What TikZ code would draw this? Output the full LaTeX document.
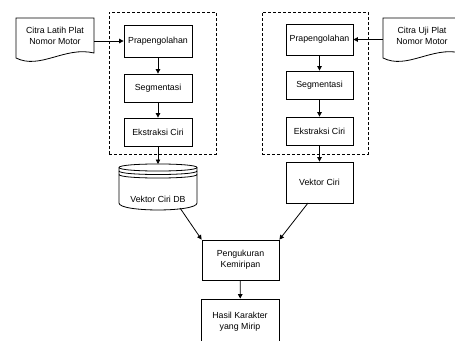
\documentclass[tikz,border=0pt]{standalone}
\usepackage{fontspec}
\setmainfont{Liberation Sans}
\usetikzlibrary{arrows.meta}
\begin{document}
\begin{tikzpicture}[x=1pt,y=-1pt,
  every node/.style={font=\fontsize{8.8}{11}\selectfont, align=center, inner sep=0pt},
  proc/.style={draw, line width=0.8pt, fill=white, minimum width=#1},
  proc/.default=68pt,
  group/.style={draw, dashed, dash pattern=on 3pt off 2pt, line width=0.8pt},
  shapeline/.style={draw, line width=0.8pt, fill=white},
  flow/.style={line width=0.8pt, -{Triangle[length=4.5pt,width=4.5pt]}},
]
\useasboundingbox (0,0) rectangle (455,340);
\clip (0,0) rectangle (455,340);

% dashed processing groups
\node[group, minimum width=107pt, minimum height=142pt] (lgroup) at (162.5,83) {};
\node[group, minimum width=106pt, minimum height=142pt] (rgroup) at (315,83) {};

% training branch
\node[proc, minimum height=32pt] (lprap) at (158,41) {Prapengolahan};
\node[proc, minimum height=28pt] (lseg) at (158,88) {Segmentasi};
\node[proc, minimum height=28pt] (leks) at (158,132) {Ekstraksi Ciri};

% test branch
\node[proc=67pt, minimum height=31pt] (rprap) at (319.5,39.5) {Prapengolahan};
\node[proc=67pt, minimum height=28pt] (rseg) at (319.5,85) {Segmentasi};
\node[proc=67pt, minimum height=28pt] (reks) at (319.5,131) {Ekstraksi Ciri};
\node[proc=67pt, minimum height=41pt] (vek) at (319.5,182.5) {Vektor Ciri};

% matching and result
\node[proc=77pt, minimum height=40pt] (peng) at (240.5,260) {Pengukuran\\Kemiripan};
\node[proc=78pt, minimum height=46pt] (hasil) at (240,322) {Hasil Karakter\\yang Mirip};

% input documents
\path[shapeline] (16,18) -- (94,18) -- (94,53)
  .. controls (65,46) and (40,70) .. (16,58) -- cycle;
\node[minimum width=78pt, minimum height=36pt] (ldoc) at (55,36) {Citra Latih Plat\\Nomor Motor};
\path[shapeline] (383,18) -- (461,18) -- (461,53)
  .. controls (432,46) and (407,70) .. (383,58) -- cycle;
\node[minimum width=78pt, minimum height=36pt] (rdoc) at (422,36) {Citra Uji Plat\\Nomor Motor};

% feature database (stacked cylinder)
\path[shapeline] (119,167.5) .. controls (119,162.8) and (197,162.8) .. (197,167.5)
  -- (197,203) .. controls (197,212.3) and (119,212.3) .. (119,203) -- cycle;
\draw[line width=0.8pt] (119,167.5) .. controls (119,172.2) and (197,172.2) .. (197,167.5);
\draw[line width=0.8pt] (119,171) .. controls (119,175.7) and (197,175.7) .. (197,171);
\draw[line width=0.8pt] (119,174.5) .. controls (119,179.2) and (197,179.2) .. (197,174.5);
\node (db) at (158,199) {Vektor Ciri DB};
\coordinate (dbtop) at (158,164);
\coordinate (dbout) at (180,208);
\coordinate (vekout) at (308,203);

% connectors
\draw[flow] (ldoc.east |- lprap) -- (lprap);
\draw[flow] (lprap) -- (lseg);
\draw[flow] (lseg) -- (leks);
\draw[flow] (leks) -- (dbtop);
\draw[flow] (rdoc.west |- rprap) -- (rprap);
\draw[flow] (rprap) -- (rseg);
\draw[flow] (rseg) -- (reks);
\draw[flow] (reks) -- (vek);
\draw[flow] (dbout) -- (peng.north west);
\draw[flow] (vekout) -- (peng.north east);
\draw[flow] (peng) -- (hasil);
\end{tikzpicture}
\end{document}
